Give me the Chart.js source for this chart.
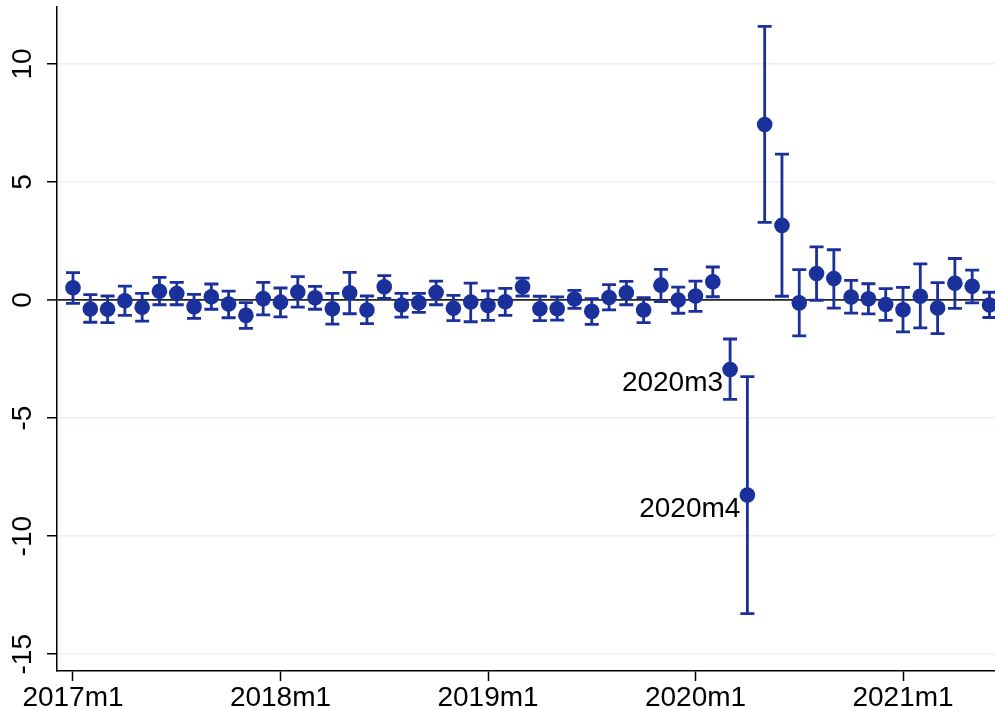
<!DOCTYPE html>
<html>
<head>
<meta charset="utf-8">
<script src="https://cdn.jsdelivr.net/npm/chart.js@4/dist/chart.umd.min.js"></script>
<style>
  html, body { margin: 0; padding: 0; background: #fff; }
  #wrap { width: 995px; height: 710px; }
</style>
</head>
<body>
<div id="wrap"><canvas id="myChart" width="995" height="710"></canvas></div>
<script>
// monthly categories, 2017m1 .. 2021m6
const months = [
  '2017m1','2017m2','2017m3','2017m4','2017m5','2017m6','2017m7','2017m8','2017m9','2017m10','2017m11','2017m12',
  '2018m1','2018m2','2018m3','2018m4','2018m5','2018m6','2018m7','2018m8','2018m9','2018m10','2018m11','2018m12',
  '2019m1','2019m2','2019m3','2019m4','2019m5','2019m6','2019m7','2019m8','2019m9','2019m10','2019m11','2019m12',
  '2020m1','2020m2','2020m3','2020m4','2020m5','2020m6','2020m7','2020m8','2020m9','2020m10','2020m11','2020m12',
  '2021m1','2021m2','2021m3','2021m4','2021m5','2021m6'
];

// point estimates
const estimates = [
  0.52, -0.38, -0.39, -0.03, -0.31, 0.37, 0.28, -0.28, 0.14, -0.17, -0.65, 0.06,
  -0.09, 0.34, 0.10, -0.37, 0.31, -0.42, 0.56, -0.21, -0.11, 0.32, -0.35, -0.08,
  -0.23, -0.07, 0.56, -0.37, -0.37, 0.04, -0.48, 0.11, 0.31, -0.42, 0.63, 0.00,
  0.17, 0.77, -2.94, -8.26, 7.43, 3.16, -0.12, 1.12, 0.91, 0.13, 0.05, -0.19,
  -0.41, 0.16, -0.34, 0.71, 0.58, -0.21
];

// confidence interval bounds
const lower = [
  -0.14, -0.94, -0.96, -0.65, -0.89, -0.20, -0.20, -0.78, -0.39, -0.75, -1.20, -0.63,
  -0.71, -0.30, -0.39, -1.02, -0.58, -1.00, 0.07, -0.72, -0.52, -0.20, -0.87, -0.92,
  -0.86, -0.65, 0.17, -0.87, -0.85, -0.35, -1.03, -0.42, -0.20, -0.96, -0.07, -0.56,
  -0.48, 0.14, -4.21, -13.28, 3.29, 0.16, -1.52, -0.01, -0.34, -0.55, -0.59, -0.86,
  -1.35, -1.18, -1.42, -0.35, -0.12, -0.74
];
const upper = [
  1.16, 0.23, 0.17, 0.59, 0.28, 0.96, 0.75, 0.24, 0.68, 0.38, -0.11, 0.75,
  0.51, 0.99, 0.58, 0.28, 1.17, 0.17, 1.03, 0.28, 0.28, 0.80, 0.20, 0.72,
  0.39, 0.49, 0.93, 0.16, 0.13, 0.41, 0.06, 0.65, 0.79, 0.10, 1.30, 0.55,
  0.80, 1.40, -1.65, -3.24, 11.59, 6.18, 1.29, 2.25, 2.13, 0.83, 0.69, 0.48,
  0.54, 1.53, 0.74, 1.76, 1.27, 0.33
];

// axis ticks
const xTicks = [0, 12, 24, 36, 48];
const xTickLabels = ['2017m1', '2018m1', '2019m1', '2020m1', '2021m1'];
const yTicks = [-15, -10, -5, 0, 5, 10];

// labelled points
const markerLabels = ['2020m3', '2020m4'];

const navy = '#1a309b';
const family = '"Liberation Sans", Arial, Helvetica, sans-serif';

const points = estimates.map((v, i) => ({ x: i, y: v }));

// whiskers with caps, drawn under the markers
const errorBars = {
  id: 'errorBars',
  beforeDatasetsDraw(chart) {
    const { ctx, scales: { x, y } } = chart;
    ctx.save();
    ctx.strokeStyle = navy;
    ctx.lineWidth = 2.8;
    estimates.forEach((v, i) => {
      const px = x.getPixelForValue(i);
      const top = y.getPixelForValue(upper[i]);
      const bot = y.getPixelForValue(lower[i]);
      ctx.beginPath();
      ctx.moveTo(px, top); ctx.lineTo(px, bot);
      ctx.moveTo(px - 7, top); ctx.lineTo(px + 7, top);
      ctx.moveTo(px - 7, bot); ctx.lineTo(px + 7, bot);
      ctx.stroke();
    });
    ctx.restore();
  }
};

// text labels to the left of selected markers
const pointLabels = {
  id: 'pointLabels',
  afterDatasetsDraw(chart) {
    const { ctx, scales: { x, y } } = chart;
    ctx.save();
    ctx.font = '28px ' + family;
    ctx.fillStyle = '#000';
    ctx.textAlign = 'right';
    ctx.textBaseline = 'middle';
    markerLabels.forEach(lbl => {
      const i = months.indexOf(lbl);
      ctx.fillText(lbl, x.getPixelForValue(i) - 7, y.getPixelForValue(estimates[i]) + 14);
    });
    ctx.restore();
  }
};

const ctx = document.getElementById('myChart').getContext('2d');

const myChart = new Chart(ctx, {
  type: 'scatter',
  data: {
    datasets: [{
      data: points,
      backgroundColor: navy,
      borderColor: navy,
      borderWidth: 0,
      pointRadius: 7.8,
      pointHoverRadius: 7.8,
      clip: false
    }]
  },
  options: {
    responsive: false,
    animation: false,
    layout: { autoPadding: false, padding: { top: 7, right: 0, left: 0, bottom: 0 } },
    plugins: {
      legend: { display: false },
      tooltip: { enabled: false }
    },
    scales: {
      x: {
        type: 'linear',
        min: -0.925,
        max: 53.32,
        afterBuildTicks: s => { s.ticks = xTicks.map(v => ({ value: v })); },
        afterFit: s => { s.height = 39; s.paddingLeft = 0; s.paddingRight = 0; },
        grid: { drawOnChartArea: false, tickLength: 10, tickColor: '#000', tickWidth: 1.5 },
        border: { color: '#000', width: 1.5 },
        ticks: {
          autoSkip: false,
          maxRotation: 0,
          padding: 0,
          color: '#000',
          font: { size: 28, family: family },
          callback: v => xTickLabels[xTicks.indexOf(v)]
        }
      },
      y: {
        min: -15.71,
        max: 12.41,
        afterBuildTicks: s => { s.ticks = yTicks.map(v => ({ value: v })); },
        afterFit: s => { s.width = 57; s.paddingTop = 0; s.paddingBottom = 0; },
        grid: {
          color: c => c.tick && c.tick.value === 0 ? '#222' : '#e9f0f2',
          lineWidth: c => c.tick && c.tick.value === 0 ? 1.8 : 1.5,
          tickLength: 10,
          tickColor: '#000',
          tickWidth: 1.5
        },
        border: { color: '#000', width: 1.5 },
        ticks: {
          minRotation: 90,
          maxRotation: 90,
          crossAlign: 'center',
          padding: 3,
          color: '#000',
          font: { size: 28, family: family },
          callback: v => String(v)
        }
      }
    }
  },
  plugins: [errorBars, pointLabels]
});
</script>
</body>
</html>
